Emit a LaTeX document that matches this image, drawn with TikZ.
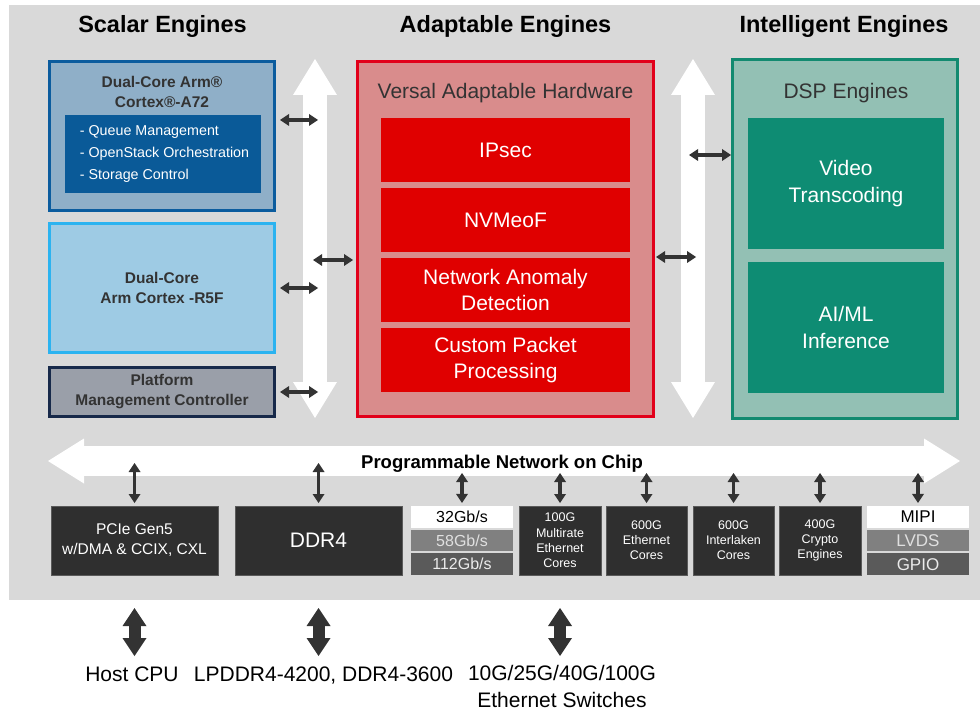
\documentclass[tikz,border=0pt]{standalone}
\usepackage{fontspec}
\setmainfont{Liberation Sans}
\usetikzlibrary{arrows.meta,positioning,calc}
\definecolor{bggray}{HTML}{D9D9D9}
\definecolor{ink}{HTML}{333333}
\definecolor{linkgray}{HTML}{333333}
\definecolor{a72edge}{HTML}{0B5C9E}
\definecolor{a72fill}{HTML}{8FAFC8}
\definecolor{a72inner}{HTML}{0A5A98}
\definecolor{r5edge}{HTML}{2BB3F0}
\definecolor{r5fill}{HTML}{9ECBE4}
\definecolor{pmcedge}{HTML}{17294A}
\definecolor{pmcfill}{HTML}{9A9FA9}
\definecolor{vedge}{HTML}{E2001A}
\definecolor{vfill}{HTML}{D98C8C}
\definecolor{vinner}{HTML}{E00000}
\definecolor{dedge}{HTML}{128A70}
\definecolor{dfill}{HTML}{93C0B4}
\definecolor{dinner}{HTML}{0E8C73}
\definecolor{portgray}{HTML}{2F2F2F}
\definecolor{rowmid}{HTML}{808080}
\definecolor{rowdark}{HTML}{5A5A5A}
\tikzset{>={Triangle[width=12pt,length=9pt,line width=0pt]}}
\tikzstyle{link}=[<->, line width=3.6pt, draw=linkgray]
\tikzstyle{bus}=[{Triangle[width=44pt,length=36pt,line width=0pt]}-{Triangle[width=44pt,length=36pt,line width=0pt]}, line width=24pt, draw=white]
\tikzstyle{noc}=[{Triangle[width=45pt,length=36pt,line width=0pt]}-{Triangle[width=45pt,length=36pt,line width=0pt]}, line width=30pt, draw=white]
\tikzstyle{ext}=[{Triangle[width=24pt,length=18pt,line width=0pt]}-{Triangle[width=24pt,length=18pt,line width=0pt]}, line width=12pt, draw=linkgray]
\tikzstyle{block}=[draw, line width=3pt, inner sep=0pt, minimum width=225pt]
\tikzstyle{hdr}=[anchor=base, font=\fontsize{23.5}{28}\selectfont\bfseries, text=black]
\tikzstyle{boxtitle}=[align=center, text=ink, font=\fontsize{15.5}{20}\selectfont\bfseries]
\tikzstyle{lighttitle}=[anchor=base, text=ink, font=\fontsize{21}{26}\selectfont]
\tikzstyle{redbox}=[fill=vinner, text=white, minimum width=249pt, minimum height=63.5pt, inner sep=0pt, outer sep=0pt, align=center, font=\fontsize{21}{26}\selectfont]
\tikzstyle{dspbox}=[fill=dinner, text=white, minimum width=196pt, minimum height=131pt, inner sep=0pt, outer sep=0pt, align=center, font=\fontsize{21}{27}\selectfont]
\tikzstyle{port}=[fill=portgray, draw=rowdark, line width=0.6pt, text=white, minimum height=69pt, inner sep=0pt, outer sep=0pt, align=center]
\tikzstyle{rate}=[minimum width=102pt, minimum height=21.7pt, inner sep=0pt, outer sep=0pt, font=\fontsize{16}{18}\selectfont]
\tikzstyle{extlbl}=[anchor=base, align=center, text=black, font=\fontsize{21}{27}\selectfont]

\begin{document}
\begin{tikzpicture}[x=1pt, y=-1pt]
    \useasboundingbox (0,0) rectangle (980,711);
    \fill[bggray] (9,5) rectangle (980,600);

    % column headers
    \node[hdr] (scalar) at (162.5,33) {Scalar Engines};
    \node[hdr] (adapt) at (505.5,33) {Adaptable Engines};
    \node[hdr] (intel) at (844,33) {Intelligent Engines};

    % scalar engines
    \node[block, draw=a72edge, fill=a72fill, minimum height=149pt] (a72) at (162,136) {};
    \node[boxtitle] (a72title) at (162,91.5) {Dual-Core Arm®\\Cortex®-A72};
    \node[fill=a72inner, text=white, minimum width=196pt, minimum height=78pt, inner sep=0pt, align=left, font=\fontsize{14.3}{22}\selectfont] (a72list) at (163,154) {\hspace*{3pt}- Queue Management\\\hspace*{3pt}- OpenStack Orchestration\\\hspace*{3pt}- Storage Control};
    \node[block, draw=r5edge, fill=r5fill, minimum height=129pt, boxtitle] (r5f) at (162,288) {Dual-Core\\Arm Cortex -R5F};
    \node[block, draw=pmcedge, fill=pmcfill, minimum height=49pt, boxtitle] (pmc) at (162,392) {Platform\\Management Controller};

    % adaptable engines
    \node[block, draw=vedge, fill=vfill, minimum width=296pt, minimum height=355pt] (versal) at (505.5,239) {};
    \node[lighttitle] (vtitle) at (505.5,99) {Versal Adaptable Hardware};
    \node[redbox] (ipsec) at (505.5,150) {IPsec};
    \node[redbox, below=6.5pt of ipsec] (nvme) {NVMeoF};
    \node[redbox, below=6.5pt of nvme] (anomaly) {Network Anomaly\\Detection};
    \node[redbox, below=6.5pt of anomaly] (packet) {Custom Packet\\Processing};

    % intelligent engines
    \node[block, draw=dedge, fill=dfill, minimum height=359pt] (dsp) at (845,239) {};
    \node[lighttitle] (dtitle) at (846,99) {DSP Engines};
    \node[dspbox] (video) at (846,183.5) {Video\\Transcoding};
    \node[dspbox, below=13pt of video] (aiml) {AI/ML\\Inference};

    % white buses
    \coordinate (lbusTop) at (315,59);
    \coordinate (lbusBot) at (315,418);
    \coordinate (rbusTop) at (693,59);
    \coordinate (rbusBot) at (693,418);
    \coordinate (nocL) at (48,461);
    \coordinate (nocR) at (960,461);
    \draw[bus] (lbusTop) -- (lbusBot);
    \draw[bus] (rbusTop) -- (rbusBot);
    \draw[noc] (nocL) -- (nocR);
    \node[font=\fontsize{18.5}{22}\selectfont\bfseries, anchor=base] (noclbl) at (502,468) {Programmable Network on Chip};

    % links to the buses
    \coordinate (lbusE) at (318,0);
    \coordinate (lbusW) at (313,0);
    \coordinate (rbusE) at (696,0);
    \coordinate (rbusW) at (689,0);
    \draw[link, shorten <=4pt] ([yshift=16pt]a72.east) -- ([yshift=16pt]a72.east -| lbusE);
    \draw[link, shorten <=4pt] (r5f.east) -- (r5f.east -| lbusE);
    \draw[link, shorten <=4pt] (pmc.east) -- (pmc.east -| lbusE);
    \draw[link, shorten >=3pt] ([yshift=-21pt]versal.west -| lbusW) -- ([yshift=-21pt]versal.west);
    \draw[link, shorten <=1pt] ([yshift=-18pt]versal.east) -- ([yshift=-18pt]versal.east -| rbusE);
    \draw[link] ([yshift=84pt]dsp.west -| rbusW) -- ([yshift=84pt]dsp.west);

    % I/O blocks
    \node[port, minimum width=167pt, font=\fontsize{15.5}{20}\selectfont] (pcie) at (134.5,540.5) {PCIe Gen5\\w/DMA \& CCIX, CXL};
    \node[port, minimum width=167pt, right=17pt of pcie, font=\fontsize{21}{26}\selectfont] (ddr) {DDR4};
    \node[rate, fill=rowmid, text=white!88!black, right=9pt of ddr] (gts2) {58Gb/s};
    \node[rate, fill=white, text=black, above=2pt of gts2] (gts1) {32Gb/s};
    \node[rate, fill=rowdark, text=white!92!black, below=2pt of gts2] (gts3) {112Gb/s};
    \node[port, minimum width=82pt, right=6pt of gts2, font=\fontsize{12.5}{15.3}\selectfont] (eth100) {100G\\Multirate\\Ethernet\\Cores};
    \node[port, minimum width=81pt, right=5pt of eth100, font=\fontsize{12.5}{15}\selectfont] (eth600) {600G\\Ethernet\\Cores};
    \node[port, minimum width=81pt, right=6pt of eth600, font=\fontsize{12.5}{15}\selectfont] (ilkn) {600G\\Interlaken\\Cores};
    \node[port, minimum width=82pt, right=5pt of ilkn, font=\fontsize{12.5}{15}\selectfont] (crypto) {400G\\Crypto\\Engines};
    \node[rate, fill=rowmid, text=white!88!black, right=6pt of crypto, font=\fontsize{17}{19}\selectfont] (mipi2) {LVDS};
    \node[rate, fill=white, text=black, above=2pt of mipi2, font=\fontsize{17}{19}\selectfont] (mipi1) {MIPI};
    \node[rate, fill=rowdark, text=white!92!black, below=2pt of mipi2, font=\fontsize{17}{19}\selectfont] (mipi3) {GPIO};

    % links to the NoC
    \coordinate (nocHi) at (0,463);
    \coordinate (nocLo) at (0,473);
    \draw[link, shorten <=3pt] (pcie.north) -- (pcie.north |- nocHi);
    \draw[link, shorten <=3pt] (ddr.north) -- (ddr.north |- nocHi);
    \foreach \blk in {gts1,eth100,eth600,ilkn,crypto,mipi1}
        \draw[link, shorten <=3pt] (\blk.north) -- (\blk.north |- nocLo);

    % off-chip
    \coordinate (extTop) at (0,608);
    \coordinate (extBot) at (0,656);
    \draw[ext] (pcie.south |- extTop) -- (pcie.south |- extBot);
    \draw[ext] (ddr.south |- extTop) -- (ddr.south |- extBot);
    \draw[ext] (eth100.south |- extTop) -- (eth100.south |- extBot);
    \node[extlbl] (host) at (132,681) {Host CPU};
    \node[extlbl] (dram) at (323.5,681) {LPDDR4-4200, DDR4-3600};
    \node[extlbl] (switch) at (562,707) {10G/25G/40G/100G\\Ethernet Switches};
\end{tikzpicture}
\end{document}
